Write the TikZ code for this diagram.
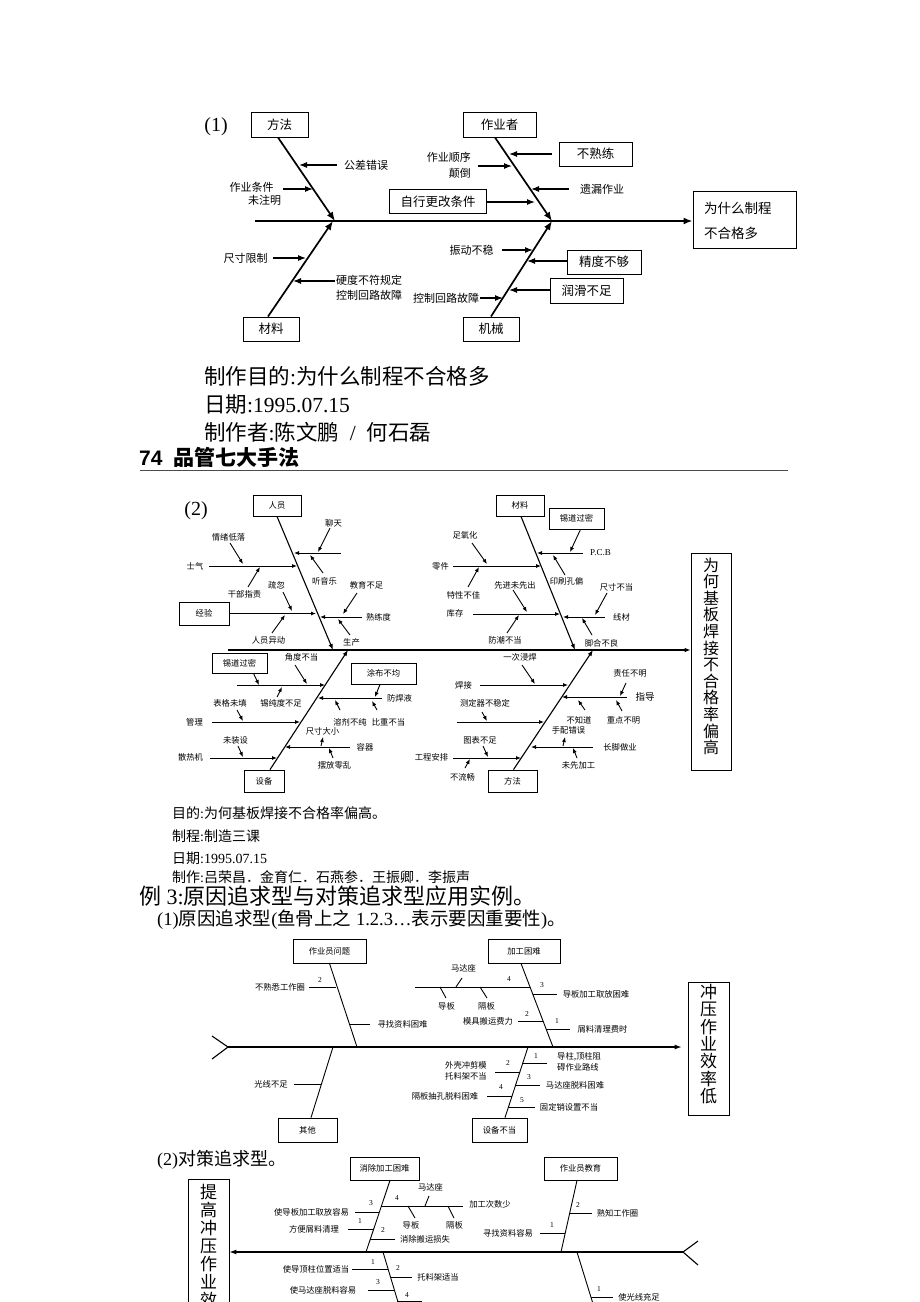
\documentclass[tikz,border=0pt]{standalone}
\usepackage{fontspec}
\setmainfont{Liberation Serif}
\newfontfamily\cjk{Noto Sans CJK SC}
\newfontfamily\sansb{Liberation Sans}
\usetikzlibrary{arrows.meta}
\begin{document}
\begin{tikzpicture}[x=1pt,y=-1pt,
  every node/.style={inner sep=0pt},
  t1/.style={font=\cjk\fontsize{11}{15.5}\selectfont,align=center},
  b1/.style={draw,line width=1pt,minimum height=25pt,font=\cjk\fontsize{12.5}{14}\selectfont},
  bone1/.style={line width=1.7pt,-{Latex[length=9pt,width=7pt]}},
  a1/.style={line width=1.1pt,-{Latex[length=8pt,width=6pt]}},
  t2/.style={font=\cjk\fontsize{8.3}{10.5}\selectfont,align=center},
  b2/.style={draw,line width=0.8pt,font=\cjk\fontsize{8.3}{10}\selectfont},
  bone2/.style={line width=1.1pt,-{Latex[length=6pt,width=4.5pt]}},
  a2/.style={line width=0.9pt,-{Latex[length=5pt,width=4pt]}},
  l3/.style={line width=0.9pt},
  n3/.style={font=\fontsize{7.5}{9}\selectfont},
  bigtxt/.style={font=\fontsize{21.5}{25}\selectfont,anchor=west},
  midtxt/.style={font=\fontsize{14}{17}\selectfont,anchor=west},
]
\useasboundingbox[fill=white] (0,0) rectangle (920,1302);

%================ Diagram (1) =================
\node[font=\fontsize{20}{24}\selectfont] (p1) at (216,127) {(1)};
\node[b1,minimum width=57pt] (fa) at (279.5,124.5) {方法};
\node[b1,minimum width=73pt] (zyz) at (499.5,124.5) {作业者};
\node[b1,minimum width=56pt,minimum height=24pt] (cl) at (271,329) {材料};
\node[b1,minimum width=56pt,minimum height=24pt] (jx) at (491,329) {机械};
\node[b1,minimum width=73pt,minimum height=24pt] (bsl) at (595.5,154) {不熟练};
\node[b1,minimum width=97pt,minimum height=24pt] (zxgg) at (438,201.5) {自行更改条件};
\node[b1,minimum width=74pt,minimum height=24pt] (jdbg) at (604,262) {精度不够};
\node[b1,minimum width=73pt,minimum height=25pt] (rhbz) at (586.5,290.5) {润滑不足};
\node[draw,line width=1pt,minimum width=103pt,minimum height=57pt] (h1) at (744.5,220) {};
\node[anchor=west,align=left,font=\cjk\fontsize{13.5}{25}\selectfont] (h1t) at (704,220.5) {为什么制程\\不合格多};

\coordinate (s1) at (255,221);
\coordinate (j1) at (335,221);
\coordinate (j2) at (552,221);
\coordinate (j3) at (333,221);
\coordinate (j4) at (552,221);
\draw[bone1] (s1) -- (s1 -| h1.west);
\draw[bone1] ([xshift=-1.5pt]fa.south) -- (j1);
\draw[bone1] ([xshift=-4.5pt]zyz.south) -- (j2);
\draw[bone1] ([xshift=-3pt]cl.north) -- (j3);
\draw[bone1] (jx.north) -- (j4);

\node[t1] (gc) at (366,165) {公差错误};
\node[t1] (zy1) at (251.5,187) {作业条件};
\node[t1] (zy2) at (264.5,200) {未注明};
\node[t1] (cc) at (245.5,258) {尺寸限制};
\node[t1] (yd) at (369,288) {硬度不符规定\\控制回路故障};
\node[t1,anchor=east,align=right] (sx) at (471,165.5) {作业顺序\\颠倒};
\node[t1] (yl) at (602,189) {遗漏作业};
\node[t1] (zd) at (471.5,250) {振动不稳};
\node[t1] (kz) at (446,298) {控制回路故障};

\draw[a1] (337,165) -- (299,165);
\draw[a1] (283,189) -- (313,189);
\draw[a1] (273,258) -- (306,258);
\draw[a1] (335,281) -- (293,281);
\draw[a1] (zxgg.east |- 0,202) -- (535,202);
\draw[a1] (552,154) -- (509,154);
\draw[a1] (478,166) -- (512,166);
\draw[a1] (569,189) -- (531,189);
\draw[a1] (502,250) -- (533,250);
\draw[a1] (jdbg.west |- 0,261) -- (527,261);
\draw[a1] (rhbz.west |- 0,290) -- (509,290);
\draw[a1] (480,298) -- (503,298);

% text block 1
\node[bigtxt] (m1) at (204,376) {{\cjk 制作目的}:{\cjk 为什么制程不合格多}};
\node[bigtxt] (m2) at (204,404) {{\cjk 日期}:1995.07.15};
\node[bigtxt] (m3) at (204,432) {{\cjk 制作者}:{\cjk 陈文鹏}\ \ /\ \ {\cjk 何石磊}};
\node[anchor=west,font=\fontsize{21}{24}\selectfont] (m4) at (139,457) {{\sansb\bfseries 74}\ \ {\cjk\bfseries 品管七大手法}};
\coordinate (r1) at (140,470);
\coordinate (r2) at (788,470);
\draw[line width=1pt,black!70] (r1) -- (r2);

%================ Diagram (2) =================
\node[font=\fontsize{20}{24}\selectfont] (p2) at (196,511) {(2)};
\node[b2,minimum width=48pt,minimum height=21pt] (ry) at (277,505.5) {人员};
\node[b2,minimum width=48pt,minimum height=21pt] (cl2) at (520,505.5) {材料};
\node[b2,minimum width=55pt,minimum height=21pt] (xd1) at (576.5,518.5) {锡道过密};
\node[b2,minimum width=50pt,minimum height=23pt] (jy) at (204,613.5) {经验};
\node[b2,minimum width=55pt,minimum height=20pt] (xd2) at (239.5,663) {锡道过密};
\node[b2,minimum width=65pt,minimum height=21pt] (tb) at (383.5,673.5) {涂布不均};
\node[b2,minimum width=40pt,minimum height=22pt] (sb) at (264,781) {设备};
\node[b2,minimum width=49pt,minimum height=22pt] (ff) at (512.5,781) {方法};
\node[draw,line width=0.8pt,minimum width=40pt,minimum height=217pt] (h2) at (711,661.5) {};
\node[font=\cjk\fontsize{16}{16.6}\selectfont,align=center] (h2t) at (711,656.3) {为\\何\\基\\板\\焊\\接\\不\\合\\格\\率\\偏\\高};

\coordinate (s2) at (228,650);
\draw[bone2] (s2) -- (s2 -| h2.west);
\coordinate (k1) at (333,650);
\coordinate (k2) at (575,650);
\coordinate (k3) at (348,650);
\coordinate (k4) at (593,650);
\draw[bone2] (ry.south) -- (k1);
\draw[bone2] ([xshift=1pt]cl2.south) -- (k2);
\draw[bone2] ([xshift=6pt]sb.north) -- (k3);
\draw[bone2] ([xshift=1pt]ff.north) -- (k4);

% 人员
\node[t2] at (333.5,523) {聊天};
\node[t2] at (324.5,581) {听音乐};
\node[t2] at (195,566) {士气};
\node[t2] at (228.5,537) {情绪低落};
\node[t2] at (244.5,594) {干部指责};
\node[t2] at (276.5,585) {疏忽};
\node[t2] at (268.5,640) {人员异动};
\node[t2] at (378.5,617) {熟练度};
\node[t2] at (366.5,585) {教育不足};
\node[t2] at (351.5,642) {生产};
\draw[a2] (341,553) -- (294,553);
\draw[a2] (330,528) -- (318,552);
\draw[a2] (323,573) -- (310,555);
\draw[a2] (209,566) -- (297,566);
\draw[a2] (230,543) -- (243,564);
\draw[a2] (248,587) -- (260,567);
\draw[a2] (jy.east) -- (316,613.5);
\draw[a2] (283,592) -- (292,611);
\draw[a2] (272,633) -- (285,615);
\draw[a2] (362,617) -- (320,617);
\draw[a2] (357,593) -- (343,614);
\draw[a2] (350,635) -- (338,619);

% 材料
\node[font=\fontsize{9}{10}\selectfont] at (600.5,553) {P.C.B};
\node[t2] at (566.5,581) {印刷孔偏};
\node[t2] at (440.5,566) {零件};
\node[t2] at (465,535) {足氧化};
\node[t2] at (463.5,595) {特性不佳};
\node[t2] at (455,613) {库存};
\node[t2] at (515,585) {先进未先出};
\node[t2] at (505,640) {防潮不当};
\node[t2] at (621.5,617) {线材};
\node[t2] at (616.5,587) {尺寸不当};
\node[t2] at (601.5,643) {脚合不良};
\draw[a2] (583,553) -- (537,553);
\draw[a2] ([xshift=4pt]xd1.south) -- (570,552);
\draw[a2] (565,575) -- (553,555);
\draw[a2] (453,566) -- (541,566);
\draw[a2] (472,543) -- (487,564);
\draw[a2] (468,587) -- (479,567);
\draw[a2] (473,614) -- (560,614);
\draw[a2] (513,590) -- (527,612);
\draw[a2] (507,633) -- (519,615);
\draw[a2] (605,617) -- (563,617);
\draw[a2] (607,593) -- (595,615);
\draw[a2] (592,635) -- (582,618);

% 设备
\node[t2] at (301.5,657) {角度不当};
\node[t2] at (281,703) {锡纯度不足};
\node[t2] at (399.5,698) {防焊液};
\node[t2] at (350,722) {溶剂不纯};
\node[t2] at (388.5,722) {比重不当};
\node[t2] at (194.5,722) {管理};
\node[t2] at (230,703) {表格未填};
\node[t2] at (365,747) {容器};
\node[t2] at (322.5,731) {尺寸大小};
\node[t2] at (334.5,765) {摆放零乱};
\node[t2] at (190.5,757) {散热机};
\node[t2] at (235.5,740) {未装设};
\draw[a2] (237,685) -- (325,685);
\draw[a2] ([xshift=14pt]xd2.south) -- (259,685);
\draw[a2] (295,665) -- (307,684);
\draw[a2] (277,697) -- (282,687);
\draw[a2] (382,698) -- (318,698);
\draw[a2] ([xshift=-3.5pt]tb.south) -- (375,697);
\draw[a2] (340,710) -- (335,700);
\draw[a2] (377,710) -- (372,701);
\draw[a2] (212,722) -- (300,722);
\draw[a2] (237,710) -- (243,721);
\draw[a2] (350,747) -- (285,747);
\draw[a2] (321,746) -- (323,737);
\draw[a2] (333,758) -- (329,748);
\draw[a2] (210,758) -- (277,758);
\draw[a2] (238,746) -- (243,757);

% 方法
\node[t2] at (463.5,685) {焊接};
\node[t2] at (520,657) {一次浸焊};
\node[font=\cjk\fontsize{9.5}{11}\selectfont] at (645,697) {指导};
\node[t2] at (630,673) {责任不明};
\node[t2] at (579,720) {不知道};
\node[t2] at (568.5,730) {手配错误};
\node[t2] at (623.5,720) {重点不明};
\node[t2] at (485,703) {测定器不稳定};
\node[t2] at (620,747) {长脚做业};
\node[t2] at (578.5,765) {未先加工};
\node[t2] at (431.5,757) {工程安排};
\node[t2] at (480,740) {图表不足};
\node[t2] at (462.5,777) {不流畅};
\draw[a2] (480,685) -- (568,685);
\draw[a2] (522,665) -- (535,684);
\draw[a2] (627,697) -- (562,697);
\draw[a2] (626,683) -- (620,696);
\draw[a2] (585,710) -- (578,700);
\draw[a2] (622,711) -- (616,700);
\draw[a2] (457,722) -- (544,722);
\draw[a2] (482,712) -- (487,721);
\draw[a2] (593,747) -- (531,747);
\draw[a2] (563,746) -- (565,737);
\draw[a2] (577,758) -- (573,748);
\draw[a2] (453,758) -- (521,758);
\draw[a2] (483,746) -- (488,757);
\draw[a2] (465,768) -- (470,759);

% text block 2
\node[midtxt] (q1) at (172,813) {{\cjk 目的}:{\cjk 为何基板焊接不合格率偏高。}};
\node[midtxt] (q2) at (172,836) {{\cjk 制程}:{\cjk 制造三课}};
\node[midtxt] (q3) at (172,858) {{\cjk 日期}:1995.07.15};
\node[midtxt] (q4) at (172,877) {{\cjk 制作}:{\cjk 吕荣昌．金育仁．石燕参．王振卿．李振声}};
\node[anchor=west,font=\fontsize{22}{26}\selectfont] (q5) at (139,896) {{\cjk 例} 3:{\cjk 原因追求型与对策追求型应用实例。}};
\node[anchor=west,font=\fontsize{18.5}{22}\selectfont] (q6) at (157,919.5) {(1){\cjk 原因追求型}({\cjk 鱼骨上之} 1.2.3…{\cjk 表示要因重要性}){\cjk 。}};

%================ Diagram (3) =================
\node[b2,minimum width=73pt,minimum height=24pt] (zw) at (329.5,951) {作业员问题};
\node[b2,minimum width=72pt,minimum height=24pt] (jg) at (524,951) {加工困难};
\node[b2,minimum width=59pt,minimum height=24pt] (qt) at (307.5,1130) {其他};
\node[b2,minimum width=55pt,minimum height=24pt] (sbbd) at (499.5,1130) {设备不当};
\node[draw,line width=0.8pt,minimum width=41pt,minimum height=133pt] (h3) at (708.5,1048.5) {};
\node[font=\cjk\fontsize{17}{17.3}\selectfont,align=center] (h3t) at (708.5,1044) {冲\\压\\作\\业\\效\\率\\低};

\coordinate (s3) at (228,1047);
\coordinate (f3a) at (212,1036);
\coordinate (f3b) at (212,1059);
\draw[line width=1.1pt,-{Latex[length=7pt,width=5pt]},shorten >=6pt] (s3) -- (s3 -| h3.west);
\draw[line width=1.1pt] (f3a) -- (s3) -- (f3b);
\coordinate (u1) at (357,1047);
\coordinate (u2) at (553,1047);
\coordinate (u3) at (333,1047);
\coordinate (u4) at (528,1047);
\draw[l3] (zw.south) -- (u1);
\draw[l3] ([xshift=-3pt]jg.south) -- (u2);
\draw[l3] ([xshift=3.5pt]qt.north) -- (u3);
\draw[l3] ([xshift=5.5pt]sbbd.north) -- (u4);

\draw[l3] (309,987) -- (336,987);
\node[n3] at (320,980) {2};
\node[t2] at (280,987) {不熟悉工作圈};
\draw[l3] (349,1024) -- (370,1024);
\node[t2] at (402.5,1024) {寻找资料困难};

\draw[l3] (415,987) -- (530,987);
\node[n3] at (509,979) {4};
\node[t2] at (463.5,968) {马达座};
\draw[l3] (462,978) -- (456,987);
\node[t2] at (446.5,1006) {导板};
\draw[l3] (440,987) -- (446,998);
\node[t2] at (486.5,1006) {隔板};
\draw[l3] (480,987) -- (487,998);
\draw[l3] (533,994) -- (557,994);
\node[n3] at (542,985) {3};
\node[t2] at (596,994) {导板加工取放困难};
\draw[l3] (518,1021) -- (543,1021);
\node[n3] at (527,1014) {2};
\node[t2] at (488,1021) {模具搬运费力};
\draw[l3] (546,1029) -- (570,1029);
\node[n3] at (557,1021) {1};
\node[t2] at (602.5,1029) {屑料清理费时};

\draw[l3] (294,1084) -- (321,1084);
\node[t2] at (271,1084) {光线不足};

\draw[l3] (523,1063) -- (547,1063);
\node[n3] at (536,1056) {1};
\node[t2,anchor=west,align=left,font=\cjk\fontsize{8.3}{10.5}\selectfont] at (557,1062) {导柱,顶柱阻\\碍作业路线};
\draw[l3] (495,1072) -- (520,1072);
\node[n3] at (508,1063) {2};
\node[t2,anchor=west,align=left,font=\cjk\fontsize{8.3}{11.5}\selectfont] at (445,1071) {外壳冲剪模\\托料架不当};
\draw[l3] (516,1085) -- (540,1085);
\node[n3] at (529,1077) {3};
\node[t2] at (575,1085) {马达座脱料困难};
\draw[l3] (487,1096) -- (512,1096);
\node[n3] at (501,1087) {4};
\node[t2] at (445,1096) {隔板抽孔脱料困难};
\draw[l3] (509,1107) -- (535,1107);
\node[n3] at (522,1100) {5};
\node[t2] at (569,1107) {固定销设置不当};

\node[anchor=west,font=\fontsize{18}{22}\selectfont] (q7) at (157,1160) {(2){\cjk 对策追求型。}};

%================ Diagram (4) =================
\node[b2,minimum width=69pt,minimum height=23pt] (xc) at (384.5,1168.5) {消除加工困难};
\node[b2,minimum width=73pt,minimum height=23pt] (zj) at (580.5,1168.5) {作业员教育};
\node[draw,line width=0.8pt,minimum width=41pt,minimum height=161pt] (h4) at (208.5,1259.5) {};
\node[font=\cjk\fontsize{17}{18}\selectfont,align=center,anchor=north] (h4t) at (208.5,1184.5) {提\\高\\冲\\压\\作\\业\\效};

\coordinate (s4) at (683,1252);
\coordinate (f4a) at (698,1241);
\coordinate (f4b) at (698,1265);
\draw[line width=1.1pt,-{Latex[length=7pt,width=5pt]}] (s4) -- (s4 -| h4.east);
\draw[line width=1.1pt] (f4a) -- (s4) -- (f4b);
\coordinate (v1) at (366,1252);
\coordinate (v2) at (561,1252);
\coordinate (v3) at (383,1252);
\coordinate (v3e) at (404,1322);
\coordinate (v4) at (577,1252);
\coordinate (v4e) at (598,1320);
\draw[l3] ([xshift=5.5pt]xc.south) -- (v1);
\draw[l3] ([xshift=-3.5pt]zj.south) -- (v2);
\draw[l3] (v3) -- (v3e);
\draw[l3] (v4) -- (v4e);

\draw[l3] (355,1212) -- (379,1212);
\node[n3] at (371,1203) {3};
\node[t2] at (311.5,1212) {使导板加工取放容易};
\draw[l3] (381,1206) -- (463,1206);
\node[n3] at (397,1198) {4};
\node[t2] at (490,1204) {加工次数少};
\node[t2] at (430.5,1187) {马达座};
\draw[l3] (429,1196) -- (425,1206);
\node[t2] at (411,1225) {导板};
\draw[l3] (408,1206) -- (415,1218);
\node[t2] at (454.5,1225) {隔板};
\draw[l3] (448,1206) -- (454,1218);
\draw[l3] (348,1229) -- (373.5,1229);
\node[n3] at (360,1221) {1};
\node[t2] at (314,1229) {方便屑料清理};
\draw[l3] (370,1239) -- (395,1239);
\node[n3] at (383,1230) {2};
\node[t2] at (425,1239) {消除搬运损失};

\draw[l3] (570,1213) -- (592,1213);
\node[n3] at (578,1205) {2};
\node[t2] at (617.5,1213) {熟知工作圈};
\draw[l3] (540,1233) -- (565,1233);
\node[n3] at (552,1225) {1};
\node[t2] at (508,1233) {寻找资料容易};

\draw[l3] (352,1269) -- (388,1269);
\node[n3] at (373,1262) {1};
\node[t2] at (316,1269) {使导顶柱位置适当};
\draw[l3] (390.5,1277) -- (412,1277);
\node[n3] at (398,1268) {2};
\node[t2] at (438,1277) {托料架适当};
\draw[l3] (368,1290) -- (394,1290);
\node[n3] at (378,1282) {3};
\node[t2] at (323,1290) {使马达座脱料容易};
\node[n3] at (407,1295) {4};
\draw[l3] (397,1301) -- (422,1301);

\draw[l3] (591,1297) -- (613,1297);
\node[n3] at (599,1289) {1};
\node[t2] at (639,1297) {使光线充足};
\end{tikzpicture}
\end{document}
